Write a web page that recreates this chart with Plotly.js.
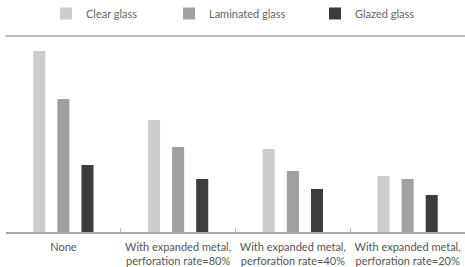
<!DOCTYPE html>
<html>
<head>
<meta charset="utf-8">
<script src="https://cdn.plot.ly/plotly-3.0.1.min.js"></script>
<style>html,body{margin:0;padding:0;background:#fff;}#chart{width:465px;height:267px;}</style>
</head>
<body>
<div id="chart"></div>
<script>
const categories = ["None", "With expanded metal,<br>perforation rate=80%", "With expanded metal,<br>perforation rate=40%", "With expanded metal,<br>perforation rate=20%"];
const seriesNames = ["Clear glass", "Laminated glass", "Glazed glass"];
const clearGlass = [181, 112, 83, 56];
const laminatedGlass = [133, 85, 61, 53];
const glazedGlass = [67, 53, 43, 37];
const colors = ["#cccccc", "#a0a0a0", "#3c3c3c"];

const values = [clearGlass, laminatedGlass, glazedGlass];
const legendIds = ["legend", "legend2", "legend3"];
const legendX = [46, 169, 315];

const traces = values.map((v, i) => ({
  type: "bar",
  name: seriesNames[i],
  x: categories,
  y: v,
  marker: {color: colors[i], line: {width: 0}},
  legend: legendIds[i],
  hoverinfo: "skip"
}));

const legendBase = {
  orientation: "h",
  xref: "container", yref: "container",
  xanchor: "left", yanchor: "middle",
  y: 1 - 13.5/267,
  font: {family: "Lato, 'Open Sans', sans-serif", size: 11, color: "#666"},
  bgcolor: "rgba(0,0,0,0)",
  itemwidth: 30
};

const layout = {
  width: 465, height: 267,
  margin: {l: 6, r: 0, t: 36, b: 35},
  paper_bgcolor: "#fff", plot_bgcolor: "#fff",
  barmode: "group",
  bargap: 0.37,
  bargroupgap: 0.5,
  showlegend: true,
  xaxis: {
    type: "category",
    showline: true, linecolor: "#a6a6a6", linewidth: 1.5,
    ticks: "inside", tickson: "boundaries", ticklen: 4, tickcolor: "#bbbbbb", tickwidth: 1,
    ticklabelstandoff: 4,
    tickangle: 0,
    showgrid: false, zeroline: false,
    tickfont: {family: "Lato, 'Open Sans', sans-serif", size: 11, color: "#555"}
  },
  yaxis: {visible: false, range: [0, 196], showgrid: false, zeroline: false, fixedrange: true},
  shapes: [{type: "line", xref: "paper", yref: "paper", x0: -0.002, x1: 1, y0: 1, y1: 1,
            line: {color: "#a6a6a6", width: 1.5}}]
};
legendIds.forEach((id, i) => {
  layout[id] = Object.assign({}, legendBase, {x: legendX[i] / 465});
});

Plotly.newPlot("chart", traces, layout, {displayModeBar: false, staticPlot: true});
</script>
</body>
</html>
